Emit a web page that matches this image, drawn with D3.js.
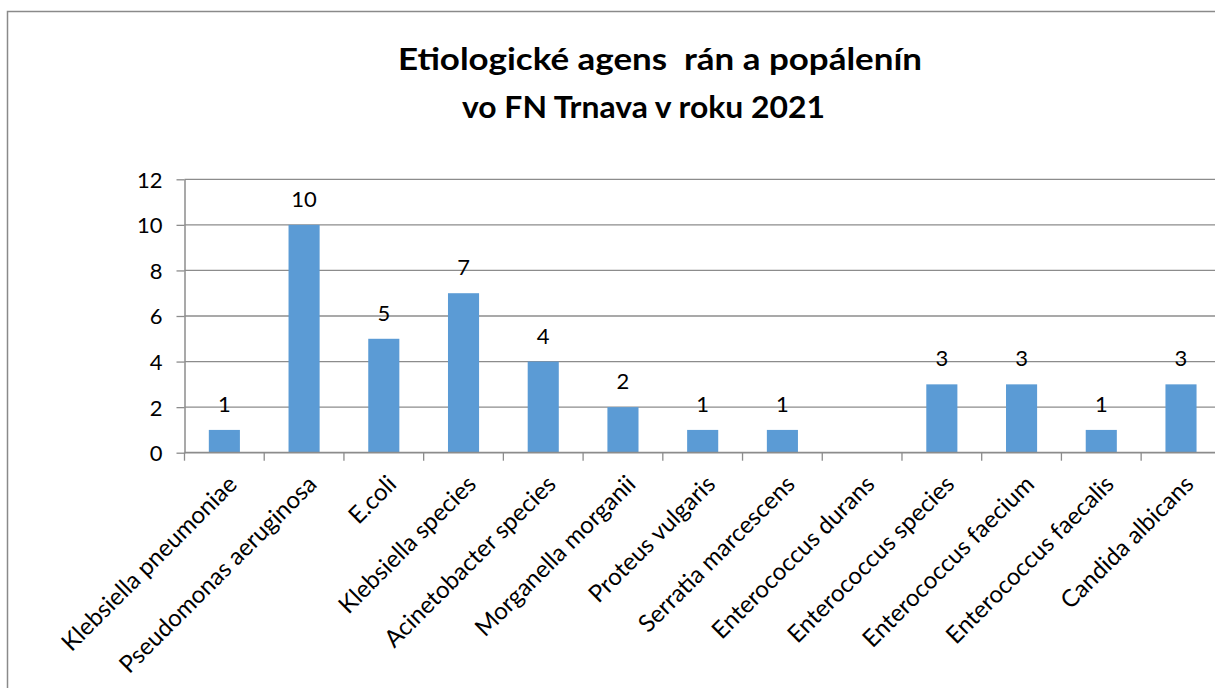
<!DOCTYPE html>
<html>
<head>
<meta charset="utf-8">
<script src="https://cdn.jsdelivr.net/npm/d3@7"></script>
<style>
  html, body { margin: 0; padding: 0; background: #fff; overflow: hidden; }
  svg { display: block; }
</style>
</head>
<body>
<svg id="chart" width="1215" height="688"></svg>
<script>
const categories = [
  "Klebsiella pneumoniae", "Pseudomonas aeruginosa", "E.coli", "Klebsiella species",
  "Acinetobacter species", "Morganella morganii", "Proteus vulgaris", "Serratia marcescens",
  "Enterococcus durans", "Enterococcus species", "Enterococcus faecium",
  "Enterococcus faecalis", "Candida albicans"
];
const values = [1, 10, 5, 7, 4, 2, 1, 1, 0, 3, 3, 1, 3];
const yTicks = [0, 2, 4, 6, 8, 10, 12];
const titleLines = ["Etiologické agens  rán a popálenín", "vo FN Trnava v roku 2021"];

const svg = d3.select("#chart");
const FONT = "Lato, 'Open Sans', sans-serif";
const GRID = "#8c8c8c";

// outer border
svg.append("path")
  .attr("d", "M7.5,688 L7.5,11.5 L1215,11.5")
  .attr("fill", "none").attr("stroke", "#8a8a8a").attr("stroke-width", 1.5);

const plot = { left: 184.5, right: 184.5 + 13 * 79.72, top: 179.3, bottom: 452.7 };

const x = d3.scaleBand().domain(categories).range([plot.left, plot.right])
  .paddingInner(0.61).paddingOuter(0.305);
const y = d3.scaleLinear().domain([0, 12]).range([plot.bottom, plot.top]);

// gridlines
svg.append("g").selectAll("line").data(yTicks.filter(d => d > 0)).join("line")
  .attr("x1", plot.left).attr("x2", plot.right)
  .attr("y1", d => y(d)).attr("y2", d => y(d))
  .attr("stroke", GRID).attr("stroke-width", 1.3);

// y axis
const yAxis = svg.append("g").attr("transform", `translate(${plot.left},0)`)
  .call(d3.axisLeft(y).tickValues(yTicks).tickSizeOuter(0).tickSizeInner(8).tickPadding(14).tickFormat(d3.format("d")));
yAxis.select(".domain").attr("stroke", GRID).attr("stroke-width", 1.5);
yAxis.selectAll(".tick line").attr("stroke", GRID).attr("stroke-width", 1.3);
yAxis.selectAll(".tick text").attr("font-family", FONT).attr("font-size", 22).attr("fill", "#000").attr("dy", "0.36em");

// bars
svg.append("g").selectAll("rect").data(values).join("rect")
  .attr("x", (d, i) => x(categories[i]))
  .attr("width", x.bandwidth())
  .attr("y", d => y(d))
  .attr("height", d => y(0) - y(d))
  .attr("fill", "#5B9BD5");

// x axis line and ticks at band boundaries
const boundaries = d3.range(categories.length + 1).map(i => plot.left + i * x.step());
svg.append("line").attr("x1", plot.left).attr("x2", plot.right)
  .attr("y1", plot.bottom).attr("y2", plot.bottom)
  .attr("stroke", GRID).attr("stroke-width", 1.8);
svg.append("g").selectAll("line").data(boundaries).join("line")
  .attr("x1", d => d).attr("x2", d => d)
  .attr("y1", plot.bottom).attr("y2", plot.bottom + 8)
  .attr("stroke", GRID).attr("stroke-width", 1.3);

// category labels
svg.append("g").selectAll("text").data(categories).join("text")
  .attr("transform", d => `translate(${x(d) + x.bandwidth() / 2 + 2},${plot.bottom + 21}) rotate(-45)`)
  .attr("text-anchor", "end")
  .attr("dy", "0.71em")
  .attr("font-family", FONT).attr("font-size", 24).attr("fill", "#000")
  .text(d => d);

// data labels
svg.append("g").selectAll("text").data(values.map((v, i) => ({ v, c: categories[i] })).filter(d => d.v > 0)).join("text")
  .attr("x", d => x(d.c) + x.bandwidth() / 2)
  .attr("y", d => y(d.v) - 18)
  .attr("text-anchor", "middle")
  .attr("font-family", FONT).attr("font-size", 22).attr("fill", "#000")
  .text(d => d.v);

// title
const tl = [{ x: 398, y: 70, w: 524 }, { x: 462, y: 118, w: 363 }];
svg.append("g").selectAll("text").data(titleLines).join("text")
  .attr("x", (d, i) => tl[i].x).attr("y", (d, i) => tl[i].y)
  .attr("textLength", (d, i) => tl[i].w).attr("lengthAdjust", "spacingAndGlyphs")
  .attr("font-family", FONT).attr("font-weight", "bold").attr("font-size", 29.5).attr("fill", "#000")
  .attr("xml:space", "preserve").style("white-space", "pre")
  .text(d => d);
</script>
</body>
</html>
